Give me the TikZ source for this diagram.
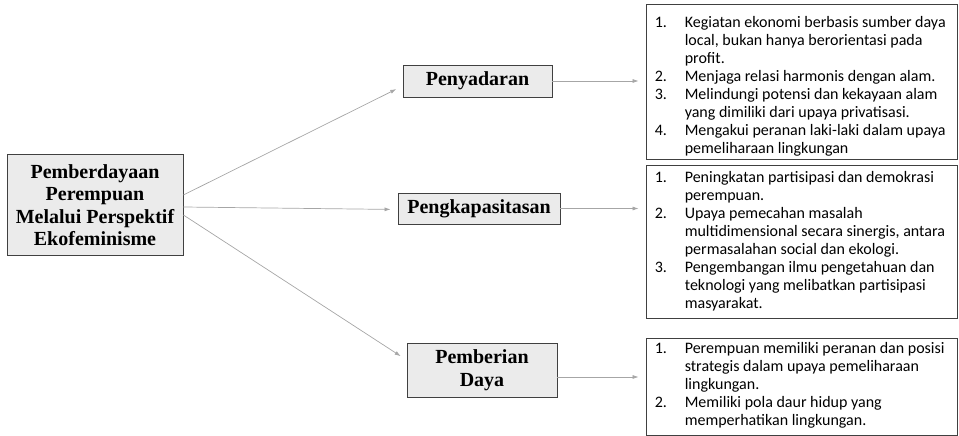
\documentclass[tikz,border=0pt]{standalone}
\usepackage{fontspec}
\setmainfont{Liberation Serif}
\newfontfamily\listfont{Carlito}
\usepackage{xcolor}
\usetikzlibrary{arrows.meta}
\definecolor{boxgray}{HTML}{EBEBEB}
\definecolor{edgegray}{HTML}{404040}
\definecolor{arrowgray}{HTML}{A6A6A6}

\begin{document}
\begin{tikzpicture}[x=1pt, y=1pt,
    mainbox/.style={draw=edgegray, fill=boxgray, line width=0.8pt, align=center,
        inner sep=0pt, font=\bfseries\fontsize{20}{22.5}\selectfont},
    listbox/.style={draw=edgegray, line width=0.8pt, inner sep=0pt},
    listtext/.style={anchor=north west, inner sep=0pt, align=left,
        font=\listfont\fontsize{16}{18}\selectfont},
    link/.style={draw=arrowgray, line width=0.7pt, -{Latex[length=6pt,width=4pt]}, shorten >=7pt}]
    \useasboundingbox (0,0) rectangle (959,436);

    % -------------------------
    % Left box
    % -------------------------
    \node[mainbox, minimum width=176pt, minimum height=101pt] (main) at (95,231)
        {Pemberdayaan\\Perempuan\\Melalui Perspektif\\Ekofeminisme};

    % -------------------------
    % Middle boxes
    % -------------------------
    \node[mainbox, minimum width=149pt, minimum height=32pt] (sadar) at (477.5,355) {Penyadaran};
    \node[mainbox, minimum width=162pt, minimum height=31pt] (kapasitas) at (479,227.5) {Pengkapasitasan};
    \node[mainbox, minimum width=150pt, minimum height=54pt] (daya) at (482,66) {Pemberian\\Daya};

    % -------------------------
    % Right boxes (lists)
    % -------------------------
    \node[listbox, minimum width=311pt, minimum height=155pt] (listA) at (801.5,354.5) {};
    \node[listbox, minimum width=311pt, minimum height=153pt] (listB) at (801.5,194.5) {};
    \node[listbox, minimum width=311pt, minimum height=97pt] (listC) at (801.5,49.5) {};

    \node[listtext] (textA) at ([xshift=9pt,yshift=-11.5pt]listA.north west)
        {\begin{tabular}{@{}p{30pt}@{}l@{}}
        1. & Kegiatan ekonomi berbasis sumber daya\\
           & local, bukan hanya berorientasi pada\\
           & profit.\\
        2. & Menjaga relasi harmonis dengan alam.\\
        3. & Melindungi potensi dan kekayaan alam\\
           & yang dimiliki dari upaya privatisasi.\\
        4. & Mengakui peranan laki-laki dalam upaya\\
           & pemeliharaan lingkungan
        \end{tabular}};
    \node[listtext] (textB) at ([xshift=9pt,yshift=-5.4pt]listB.north west)
        {\begin{tabular}{@{}p{30pt}@{}l@{}}
        1. & Peningkatan partisipasi dan demokrasi\\
           & perempuan.\\
        2. & Upaya pemecahan masalah\\
           & multidimensional secara sinergis, antara\\
           & permasalahan social dan ekologi.\\
        3. & Pengembangan ilmu pengetahuan dan\\
           & teknologi yang melibatkan partisipasi\\
           & masyarakat.
        \end{tabular}};
    \node[listtext] (textC) at ([xshift=9pt,yshift=-3.4pt]listC.north west)
        {\begin{tabular}{@{}p{30pt}@{}l@{}}
        1. & Perempuan memiliki peranan dan posisi\\
           & strategis dalam upaya pemeliharaan\\
           & lingkungan.\\
        2. & Memiliki pola daur hidup yang\\
           & memperhatikan lingkungan.
        \end{tabular}};

    % -------------------------
    % Arrows
    % -------------------------
    \draw[link] ([yshift=10pt]main.east) -- ([yshift=-5pt]sadar.west);
    \draw[link] ([yshift=-2pt]main.east) -- ([yshift=-1pt]kapasitas.west);
    \draw[link] ([yshift=-10pt]main.east) -- ([yshift=10pt]daya.west);
    \draw[link] (sadar.east) -- (sadar.east -| listA.west);
    \draw[link] (kapasitas.east) -- (kapasitas.east -| listB.west);
    \draw[link] ([yshift=-7pt]daya.east) -- ([yshift=-7pt]daya.east -| listC.west);
\end{tikzpicture}
\end{document}
